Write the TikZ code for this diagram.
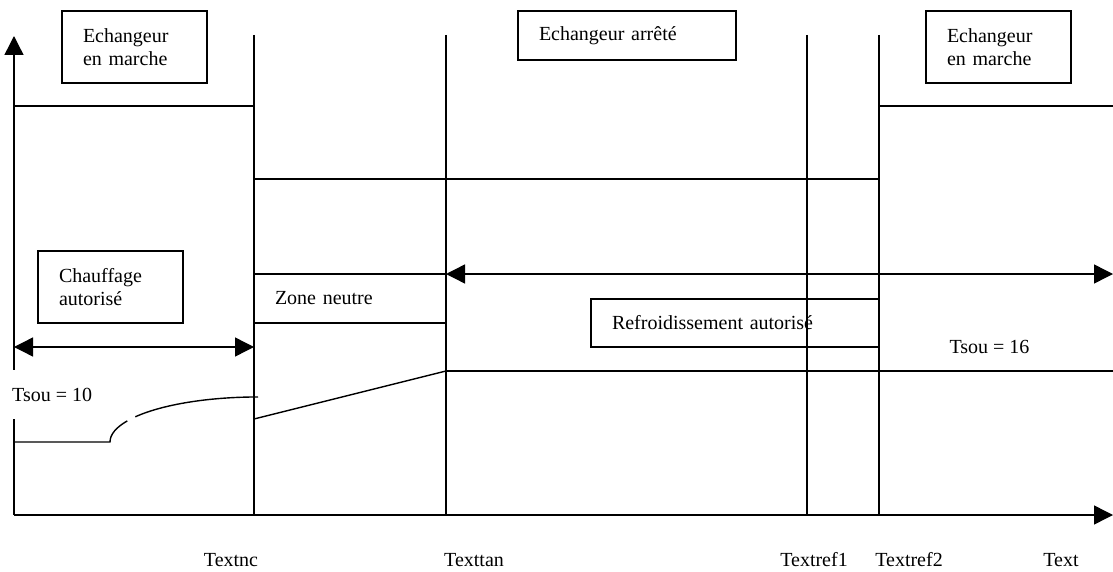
\documentclass[tikz,border=0pt]{standalone}
\usepackage{fontspec}
\setmainfont{Liberation Serif}
\usetikzlibrary{arrows.meta}
\begin{document}
\begin{tikzpicture}[x=1pt,y=1pt,
  every node/.style={font=\fontsize{20}{23}\selectfont},
  ln/.style={line width=1.4pt},
  tip/.style={-{Triangle[length=19pt,width=19pt]}},
  dtip/.style={{Triangle[length=19pt,width=19pt]}-{Triangle[length=19pt,width=19pt]}},
  tbox/.style={draw,line width=1.3pt,rectangle,align=left,inner xsep=21pt,inner ysep=0pt,anchor=center},
  lbl/.style={inner sep=0pt,anchor=center}]
\useasboundingbox (0,0) rectangle (1113,-572);
% coordinates
\coordinate (O) at (14,-515);
\coordinate (Ytop) at (14,-36);
\coordinate (Xend) at (1113,-515);
\foreach \n/\x in {a/254,b/446,c/807,d/879}{
  \coordinate (\n top) at (\x,-35);
  \coordinate (\n bot) at (\x,-515);
}
% axes
\draw[ln,tip] (O) -- (Ytop);
\draw[ln,tip] (O) -- (Xend);
% verticals
\draw[ln] (atop) -- (abot);
\draw[ln] (btop) -- (bbot);
\draw[ln] (ctop) -- (cbot);
\draw[ln] (dtop) -- (dbot);
% horizontal levels
\coordinate (h1a) at (14,-106); \coordinate (h1b) at (254,-106);
\coordinate (h2a) at (879,-106); \coordinate (h2b) at (1113,-106);
\coordinate (h3a) at (254,-179); \coordinate (h3b) at (879,-179);
\draw[ln] (h1a) -- (h1b);
\draw[ln] (h2a) -- (h2b);
\draw[ln] (h3a) -- (h3b);
% double arrows
\coordinate (r1) at (446,-274); \coordinate (r2) at (1113,-274);
\draw[ln,dtip] (r1) -- (r2);
\coordinate (c1) at (14,-347); \coordinate (c2) at (254,-347);
\draw[ln,dtip] (c1) -- (c2);
% temperature curve
\coordinate (t1) at (446,-371); \coordinate (t2) at (1113,-371);
\draw[ln] (t1) -- (t2);
\coordinate (s1) at (254,-419);
\draw[ln] (s1) -- (t1);
\coordinate (l1) at (14,-442); \coordinate (l2) at (110,-442);
\draw[ln] (l1) -- (l2) arc[start angle=180,end angle=152,x radius=148,y radius=45];
\coordinate (k1) at (135.3,-416.8);
\draw[ln] (k1) arc[start angle=146,end angle=90,x radius=148,y radius=45];
% boxes
\node[tbox,text width=103pt,minimum height=72pt] (em1) at (134.5,-47) {Echangeur\\en marche};
\node[tbox,text width=176pt,minimum height=49pt] (ea) at (627,-35.5) {Echangeur arrêté};
\node[tbox,text width=103pt,minimum height=72pt] (em2) at (998.5,-47) {Echangeur\\en marche};
\node[tbox,text width=103pt,minimum height=72pt] (ch) at (110.5,-287) {Chauffage\\autorisé};
\node[tbox,text width=150pt,minimum height=49pt] (zn) at (350,-298.5) {Zone neutre};
\node[tbox,text width=246pt,minimum height=48pt] (rf) at (735,-323) {Refroidissement autorisé};
% Tsou labels
\node[fill=white,inner xsep=2pt,inner ysep=0pt,minimum height=49pt,anchor=west] (ts10) at (10,-394.5) {Tsou = 10};
\node[lbl] (ts16) at (989.5,-347) {Tsou = 16};
% axis labels
\node[lbl] (xnc) at (231,-560) {Textnc};
\node[lbl] (xtan) at (474,-560) {Texttan};
\node[lbl] (xr1) at (814,-560) {Textref1};
\node[lbl] (xr2) at (909,-560) {Textref2};
\node[lbl] (xt) at (1061,-560) {Text};
\end{tikzpicture}
\end{document}
